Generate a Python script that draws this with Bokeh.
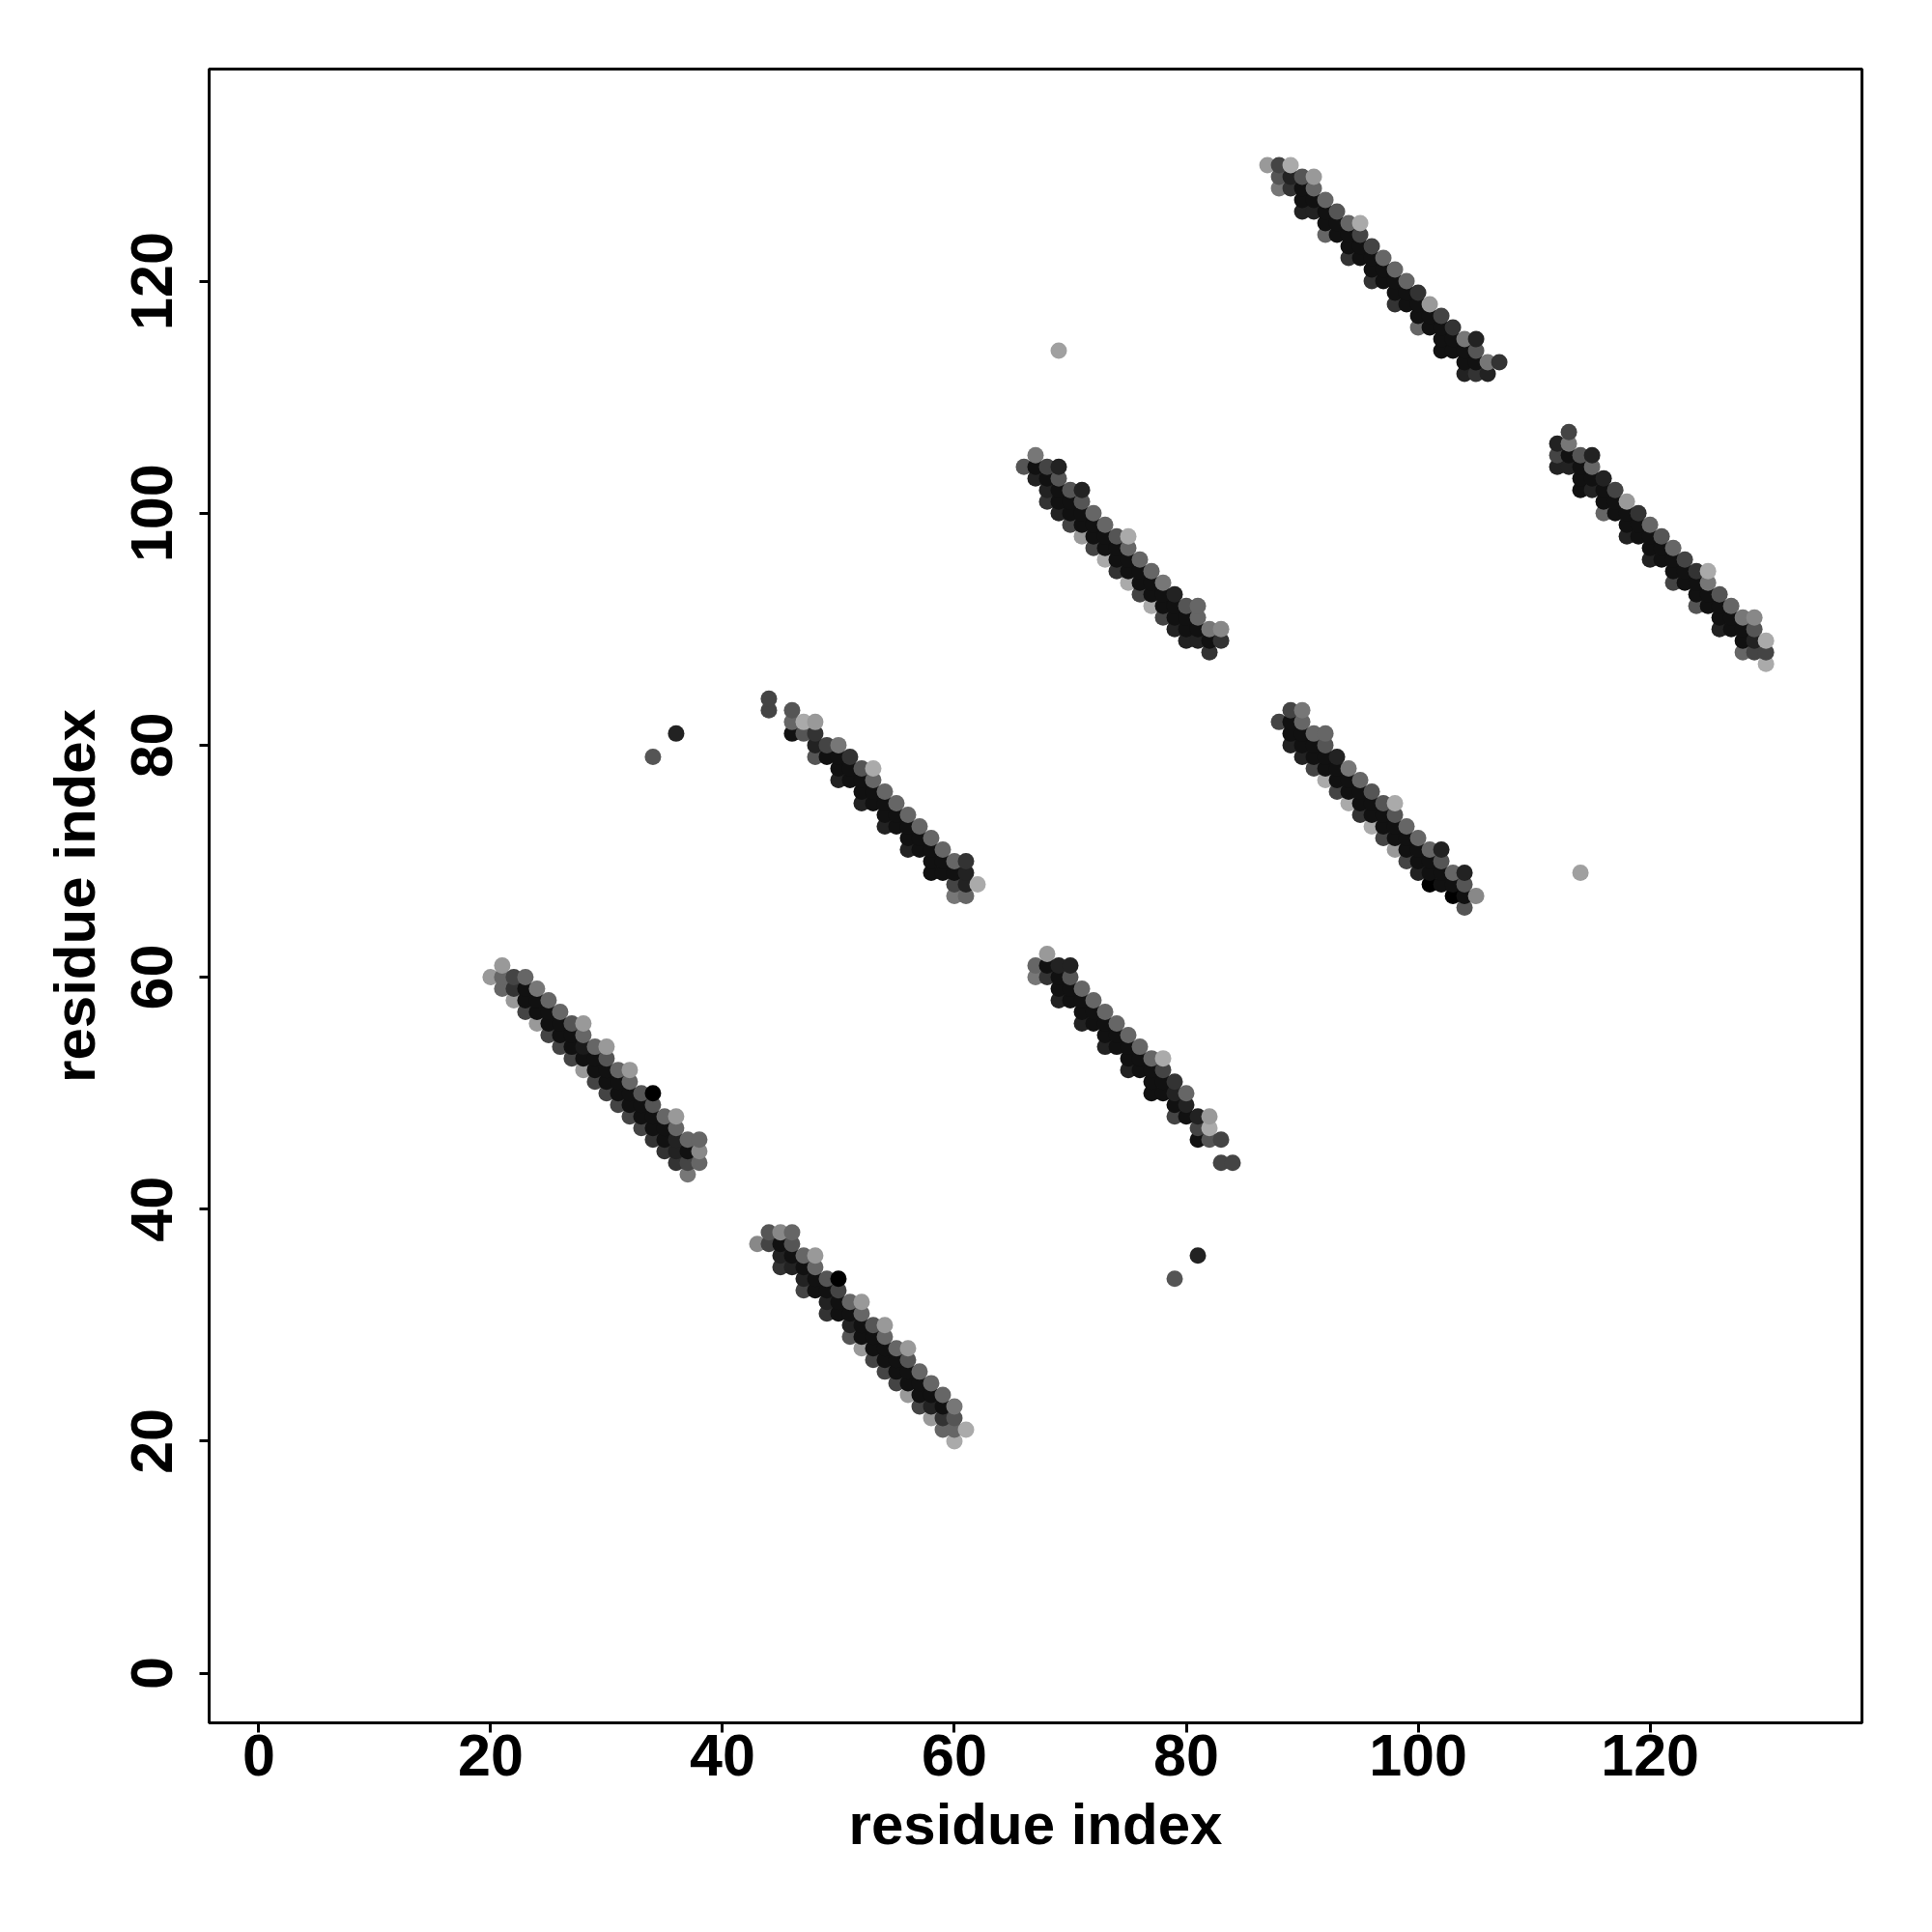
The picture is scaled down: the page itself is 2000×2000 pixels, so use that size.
from bokeh.plotting import figure
from bokeh.models import ColumnDataSource, Range1d, FixedTicker
from bokeh.embed import file_html
from bokeh.resources import INLINE

# Each point: (residue i, residue j, gray level 0-255)
band1 = [(20,60,153),
         (21,59,102),(21,60,102),(21,61,153),
         (22,58,153),(22,59,51),(22,60,68),
         (23,57,68),(23,58,17),(23,59,17),(23,60,102),
         (24,56,153),(24,57,17),(24,58,17),(24,59,119),
         (25,55,68),(25,56,17),(25,57,17),(25,58,102),
         (26,54,68),(26,55,17),(26,56,17),(26,57,102),
         (27,53,68),(27,54,17),(27,55,17),(27,56,85),
         (28,52,153),(28,53,17),(28,54,26),(28,55,102),(28,56,153),
         (29,51,68),(29,52,17),(29,53,17),(29,54,102),
         (30,50,68),(30,51,17),(30,52,17),(30,53,85),(30,54,153),
         (31,49,68),(31,50,17),(31,51,17),(31,52,102),
         (32,48,68),(32,49,17),(32,50,17),(32,51,102),(32,52,153),
         (33,47,68),(33,48,17),(33,49,17),(33,50,85),
         (34,46,51),(34,47,17),(34,48,17),(34,49,85),(34,50,0),
         (35,45,51),(35,46,17),(35,47,17),(35,48,102),
         (36,44,51),(36,45,34),(36,46,34),(36,47,102),(36,48,153),
         (37,43,119),(37,44,68),(37,45,17),(37,46,102),
         (38,44,102),(38,45,136),(38,46,102)]

band2 = [(43,37,136),
         (44,37,68),(44,38,85),
         (45,35,51),(45,36,34),(45,37,17),(45,38,136),
         (46,35,34),(46,36,17),(46,37,85),(46,38,102),
         (47,33,68),(47,34,34),(47,35,17),(47,36,102),
         (48,33,17),(48,34,17),(48,35,102),(48,36,153),
         (49,31,51),(49,32,34),(49,33,17),(49,34,85),
         (50,31,17),(50,32,17),(50,33,68),(50,34,0),
         (51,29,85),(51,30,34),(51,31,17),(51,32,102),
         (52,28,153),(52,29,17),(52,30,17),(52,31,102),(52,32,153),
         (53,27,68),(53,28,17),(53,29,17),(53,30,85),
         (54,26,68),(54,27,17),(54,28,17),(54,29,102),(54,30,153),
         (55,25,68),(55,26,17),(55,27,17),(55,28,102),
         (56,24,153),(56,25,17),(56,26,17),(56,27,85),(56,28,153),
         (57,23,68),(57,24,17),(57,25,17),(57,26,102),
         (58,22,153),(58,23,34),(58,24,17),(58,25,102),
         (59,21,102),(59,22,51),(59,23,17),(59,24,102),
         (60,20,170),(60,21,102),(60,22,85),(60,23,119),
         (61,21,170)]

band3 = [(44,83,68),(44,84,68),
         (46,81,17),(46,82,102),(46,83,85),
         (47,81,85),(47,82,170),
         (48,79,85),(48,80,34),(48,81,51),(48,82,153),
         (49,79,17),(49,80,68),
         (50,77,34),(50,78,17),(50,79,17),(50,80,119),
         (51,77,17),(51,78,17),(51,79,51),
         (52,75,34),(52,76,17),(52,77,17),(52,78,85),
         (53,75,17),(53,76,17),(53,77,102),(53,78,170),
         (54,73,34),(54,74,17),(54,75,17),(54,76,102),
         (55,73,17),(55,74,17),(55,75,102),
         (56,71,34),(56,72,17),(56,73,17),(56,74,102),
         (57,71,17),(57,72,17),(57,73,102),
         (58,69,17),(58,70,17),(58,71,17),(58,72,102),
         (59,69,17),(59,70,17),(59,71,102),
         (60,67,119),(60,68,68),(60,69,17),(60,70,102),
         (61,67,102),(61,68,34),(61,69,34),(61,70,51),
         (62,68,170)]

band4 = [(66,104,85),
         (67,103,34),(67,104,17),(67,105,119),
         (68,101,51),(68,102,34),(68,103,17),(68,104,68),
         (69,100,34),(69,101,17),(69,102,17),(69,103,85),(69,104,34),
         (70,99,68),(70,100,17),(70,101,17),(70,102,85),
         (71,98,153),(71,99,17),(71,100,17),(71,101,85),(71,102,34),
         (72,97,68),(72,98,17),(72,99,17),(72,100,102),
         (73,96,170),(73,97,17),(73,98,17),(73,99,102),
         (74,95,51),(74,96,17),(74,97,17),(74,98,85),
         (75,94,170),(75,95,17),(75,96,17),(75,97,102),(75,98,170),
         (76,93,68),(76,94,17),(76,95,17),(76,96,102),
         (77,92,170),(77,93,17),(77,94,17),(77,95,102),
         (78,91,68),(78,92,17),(78,93,17),(78,94,119),
         (79,90,34),(79,91,17),(79,92,17),(79,93,34),
         (80,89,34),(80,90,17),(80,91,17),(80,92,85),
         (81,89,34),(81,90,17),(81,91,102),(81,92,102),
         (82,88,51),(82,89,17),(82,90,119),
         (83,89,51),(83,90,136)]

band5 = [(67,60,119),(67,61,102),
         (68,60,51),(68,61,17),(68,62,153),
         (69,58,34),(69,59,17),(69,60,17),(69,61,34),
         (70,58,17),(70,59,17),(70,60,85),(70,61,34),
         (71,56,34),(71,57,17),(71,58,17),(71,59,102),
         (72,56,17),(72,57,17),(72,58,102),
         (73,54,34),(73,55,17),(73,56,17),(73,57,102),
         (74,54,17),(74,55,17),(74,56,102),
         (75,52,34),(75,53,17),(75,54,17),(75,55,102),
         (76,52,17),(76,53,17),(76,54,102),
         (77,50,17),(77,51,17),(77,52,17),(77,53,102),
         (78,50,17),(78,51,17),(78,52,68),(78,53,170),
         (79,48,68),(79,49,17),(79,50,34),(79,51,51),
         (80,48,17),(80,49,34),(80,50,102),
         (81,46,17),(81,47,68),(81,48,34),
         (82,46,85),(82,47,170),(82,48,153),
         (83,44,68),(83,46,68),
         (84,44,68)]

band6 = [(87,130,153),
         (88,128,119),(88,129,85),(88,130,68),
         (89,128,51),(89,129,34),(89,130,170),
         (90,126,34),(90,127,17),(90,128,17),(90,129,85),
         (91,126,34),(91,127,17),(91,128,102),(91,129,153),
         (92,124,102),(92,125,17),(92,126,17),(92,127,102),
         (93,124,17),(93,125,17),(93,126,85),
         (94,122,51),(94,123,17),(94,124,17),(94,125,102),
         (95,122,17),(95,123,17),(95,124,68),(95,125,170),
         (96,120,51),(96,121,17),(96,122,17),(96,123,68),
         (97,120,17),(97,121,17),(97,122,102),
         (98,118,51),(98,119,17),(98,120,17),(98,121,102),
         (99,118,17),(99,119,17),(99,120,102),
         (100,116,102),(100,117,17),(100,118,17),(100,119,51),
         (101,116,17),(101,117,17),(101,118,153),
         (102,114,17),(102,115,17),(102,116,17),(102,117,68),
         (103,114,17),(103,115,17),(103,116,51),
         (104,112,34),(104,113,17),(104,114,17),(104,115,119),
         (105,112,51),(105,113,17),(105,114,85),(105,115,34),
         (106,112,34),(106,113,119),
         (107,113,51)]

band7 = [(88,82,68),
         (89,80,34),(89,81,17),(89,82,17),(89,83,68),
         (90,79,34),(90,80,17),(90,81,17),(90,82,102),(90,83,119),
         (91,78,68),(91,79,17),(91,80,17),(91,81,102),
         (92,77,170),(92,78,17),(92,79,17),(92,80,85),(92,81,102),
         (93,76,68),(93,77,17),(93,78,17),(93,79,34),
         (94,75,170),(94,76,17),(94,77,17),(94,78,119),
         (95,74,51),(95,75,17),(95,76,17),(95,77,102),
         (96,73,170),(96,74,17),(96,75,17),(96,76,85),
         (97,72,68),(97,73,17),(97,74,17),(97,75,85),
         (98,71,153),(98,72,17),(98,73,17),(98,74,85),(98,75,170),
         (99,70,68),(99,71,17),(99,72,17),(99,73,102),
         (100,69,34),(100,70,17),(100,71,17),(100,72,102),
         (101,68,0),(101,69,17),(101,70,17),(101,71,102),
         (102,68,17),(102,69,17),(102,70,85),(102,71,34),
         (103,67,0),(103,68,17),(103,69,102),
         (104,66,85),(104,67,17),(104,68,85),(104,69,34),
         (105,67,136)]

band8 = [(112,104,34),(112,105,68),(112,106,34),
         (113,104,34),(113,105,17),(113,106,119),(113,107,68),
         (114,102,17),(114,103,17),(114,104,17),(114,105,85),
         (115,102,34),(115,103,17),(115,104,102),(115,105,34),
         (116,100,102),(116,101,17),(116,102,17),(116,103,34),
         (117,100,17),(117,101,17),(117,102,68),
         (118,98,34),(118,99,17),(118,100,17),(118,101,153),
         (119,98,17),(119,99,17),(119,100,51),
         (120,96,34),(120,97,17),(120,98,17),(120,99,102),
         (121,96,17),(121,97,17),(121,98,85),
         (122,94,68),(122,95,17),(122,96,17),(122,97,102),
         (123,94,17),(123,95,17),(123,96,68),
         (124,92,85),(124,93,17),(124,94,17),(124,95,51),
         (125,92,17),(125,93,17),(125,94,119),(125,95,170),
         (126,90,34),(126,91,17),(126,92,17),(126,93,85),
         (127,90,17),(127,91,17),(127,92,102),
         (128,88,102),(128,89,17),(128,90,17),(128,91,119),
         (129,88,68),(129,89,34),(129,90,85),(129,91,136),
         (130,87,170),(130,88,68),(130,89,170)]

isolated = [(34,79,85),(36,81,34),(79,34,85),(81,36,34),(69,114,160),(114,69,160)]

tick_values = [0, 20, 40, 60, 80, 100, 120]
axis_title = "residue index"

xs, ys, cs = [], [], []
for band in (band1, band2, band3, band4, band5, band6, band7, band8, isolated):
    for (i, j, g) in band:
        xs.append(i)
        ys.append(j)
        cs.append("#%02x%02x%02x" % (g, g, g))
src = ColumnDataSource(dict(x=xs, y=ys, c=cs))

p = figure(width=1984, height=1984, output_backend="svg", toolbar_location=None,
           x_range=Range1d(-4.28, 138.28), y_range=Range1d(-4.28, 138.28),
           min_border_left=216, min_border_right=57, min_border_top=71, min_border_bottom=201,
           background_fill_color="white", border_fill_color="white")
p.scatter(x="x", y="y", source=src, marker="circle", size=17,
          fill_color="c", line_color=None)

p.xgrid.visible = False
p.ygrid.visible = False
p.outline_line_color = "black"
p.outline_line_width = 3

for ax in (p.xaxis[0], p.yaxis[0]):
    ax.ticker = FixedTicker(ticks=tick_values)
    ax.axis_label = axis_title
    ax.axis_line_color = None
    ax.major_tick_out = 10
    ax.major_tick_in = 0
    ax.major_tick_line_width = 3
    ax.major_tick_line_color = "black"
    ax.minor_tick_line_color = None
    ax.major_label_text_font = "Liberation Sans"
    ax.major_label_text_font_style = "bold"
    ax.major_label_text_font_size = "61px"
    ax.major_label_text_color = "black"
    ax.axis_label_text_font = "Liberation Sans"
    ax.axis_label_text_font_style = "bold"
    ax.axis_label_text_font_size = "60px"
    ax.axis_label_text_color = "black"

p.xaxis.major_label_standoff = 2
p.xaxis.axis_label_standoff = 14
p.yaxis.major_label_standoff = 28
p.yaxis.axis_label_standoff = 23
p.yaxis.major_label_orientation = "vertical"

open("out.html", "w").write(file_html(p, INLINE))
